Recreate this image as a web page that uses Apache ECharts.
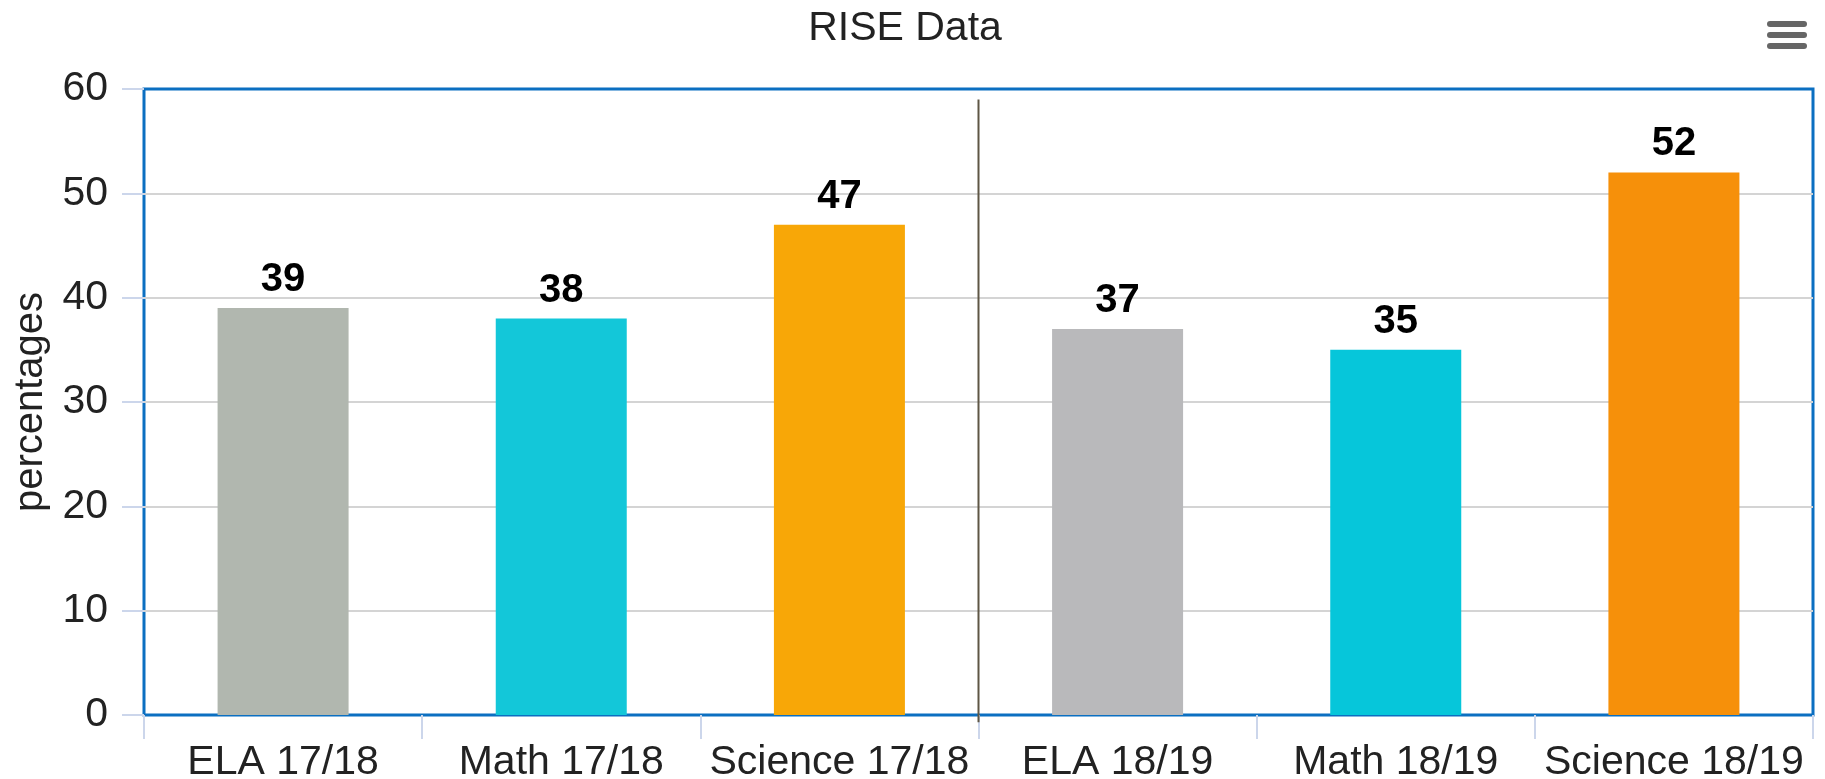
<!DOCTYPE html>
<html>
<head>
<meta charset="utf-8">
<title>RISE Data</title>
<script src="https://cdn.jsdelivr.net/npm/echarts@6/dist/echarts.min.js"></script>
<style>
  html, body { margin: 0; padding: 0; background: #fff; }
  #chart { width: 1825px; height: 779px; }
</style>
</head>
<body>
<div id="chart"></div>
<script>
// data
const categories = ['ELA 17/18', 'Math 17/18', 'Science 17/18', 'ELA 18/19', 'Math 18/19', 'Science 18/19'];
const percentages = [39, 38, 47, 37, 35, 52];
const barColors = ['#b1b7af', '#13c7d9', '#f8a707', '#b9b9bb', '#06c6da', '#f6900a'];
const yTicks = [0, 10, 20, 30, 40, 50, 60];
// vertical divider between the two school years
const dividerLine = [[3, 59], [3, -0.7]];

const FONT = '"Liberation Sans", Arial, sans-serif';

const chart = echarts.init(document.getElementById('chart'));

const option = {
    animation: false,
    textStyle: { fontFamily: FONT },
    title: {
        text: 'RISE Data',
        left: 900,
        textAlign: 'center',
        top: 3,
        textStyle: { fontSize: 41, fontWeight: 'normal', color: '#222', fontFamily: FONT }
    },
    grid: {
        left: 144,
        right: 12,
        top: 89,
        bottom: 64,
        show: true,
        borderColor: '#0b6fc1',
        borderWidth: 3,
        containLabel: false,
        outerBoundsMode: 'none'
    },
    xAxis: [
        {
            type: 'category',
            data: categories,
            axisLine: { show: false },
            axisTick: {
                show: true,
                length: 24,
                alignWithLabel: false,
                lineStyle: { color: '#ccd6eb', width: 2 }
            },
            axisLabel: { fontSize: 41, color: '#222', margin: 27, fontFamily: FONT, interval: 0 }
        },
        {
            type: 'value',
            min: 0,
            max: 6,
            show: false
        }
    ],
    yAxis: {
        type: 'value',
        min: yTicks[0],
        max: yTicks[yTicks.length - 1],
        interval: 10,
        name: 'percentages',
        nameLocation: 'middle',
        nameGap: 93,
        nameTextStyle: { fontSize: 40, color: '#222', fontFamily: FONT },
        axisLine: { show: false },
        axisTick: { show: true, length: 22, lineStyle: { color: '#ccd6eb', width: 2 } },
        axisLabel: { fontSize: 41, color: '#222', margin: 36, fontFamily: FONT },
        splitLine: { showMinLine: false, showMaxLine: false, lineStyle: { color: '#d4d4d4', width: 2 } }
    },
    series: [
        {
            type: 'bar',
            data: percentages.map((v, i) => ({ value: v, itemStyle: { color: barColors[i] } })),
            barWidth: 131,
            label: {
                show: true,
                position: 'top',
                distance: 8,
                fontSize: 40,
                fontWeight: 'bold',
                color: '#000',
                fontFamily: FONT
            }
        },
        {
            type: 'line',
            xAxisIndex: 1,
            data: dividerLine,
            symbol: 'none',
            clip: false,
            silent: true,
            lineStyle: { color: '#5e5645', width: 2 },
            z: 5
        }
    ],
    graphic: [
        {
            type: 'group',
            left: 1767,
            top: 21,
            children: [
                { type: 'rect', shape: { x: 0, y: 0, width: 40, height: 6, r: 3 }, style: { fill: '#666' } },
                { type: 'rect', shape: { x: 0, y: 11, width: 40, height: 6, r: 3 }, style: { fill: '#666' } },
                { type: 'rect', shape: { x: 0, y: 22, width: 40, height: 6, r: 3 }, style: { fill: '#666' } }
            ]
        }
    ]
};

chart.setOption(option);

window.addEventListener('resize', () => chart.resize());
</script>
</body>
</html>
